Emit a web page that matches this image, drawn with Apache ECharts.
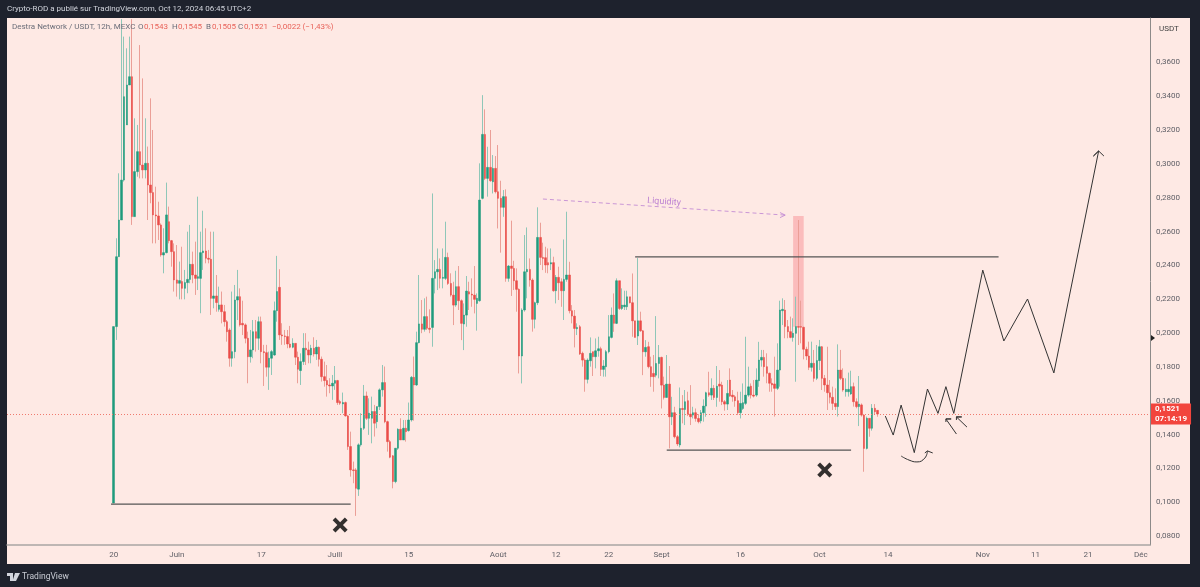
<!DOCTYPE html>
<html lang="fr">
<head>
	<meta charset="UTF-8">
	<title>Destra Network / USDT</title>
	<style type="text/css">
		html, body { margin: 0; padding: 0; background: #1e222d; }
		#main { width: 1200px; height: 587px; }
	</style>
	<script type="text/javascript" src="https://cdn.jsdelivr.net/npm/echarts@6/dist/echarts.min.js"></script>
</head>
<body>
	<div id="main"></div>
	<script type="text/javascript">
// prix, une bougie toutes les 12h a partir du 20 mai
var opens = [
.0995,.2038,.2451,.2668,.2904,.3230,.3466,.3515,.2688,.2954,
.3072,.2993,.2964,.3003,.2875,.2830,.2698,.2692,.2639,.2461,
.2475,.2658,.2546,.2481,.2314,.2294,.2304,.2264,.2298,.2317,
.2406,.2343,.2323,.2323,.2475,.2485,.2442,.2436,.2205,.2219,
.2140,.2166,.2126,.2067,.2018,.1851,.1890,.2195,.2215,.2057,
.2048,.1969,.1860,.1900,.2008,.1969,.2067,.1890,.1884,.1798,
.1851,.1870,.2132,.2270,.1989,.1983,.1979,.1935,.1916,.1939,
.1857,.1778,.1831,.1910,.1900,.1870,.1910,.1876,.1916,.1845,
.1742,.1719,.1693,.1687,.1703,.1719,.1595,.1581,.1589,.1510,
.1329,.1191,.1191,.1077,.1339,.1437,.1628,.1496,.1496,.1536,
.1476,.1565,.1664,.1707,.1476,.1358,.1274,.1122,.1319,.1431,
.1368,.1437,.1423,.1486,.1738,.1693,.1943,.2054,.2022,.2097,
.2028,.2033,.2323,.2362,.2376,.2323,.2323,.2447,.2293,.2224,
.2165,.2274,.2191,.2053,.2106,.2244,.2230,.2224,.2175,.2191,
.2796,.3174,.2914,.2979,.2894,.2973,.2835,.2796,.2743,.2806,
.2323,.2396,.2382,.2309,.2258,.1864,.2136,.2362,.2376,.2313,
.2081,.2179,.2565,.2447,.2445,.2416,.2408,.2416,.2250,.2329,
.2303,.2250,.2317,.2343,.2132,.2100,.2025,.2037,.1880,.1840,
.1726,.1836,.1890,.1860,.1895,.1907,.1785,.1801,.1890,.1974,
.2106,.2057,.2309,.2145,.2155,.2155,.2214,.2179,.2072,.1982,
.2072,.2013,.1889,.1919,.1801,.1761,.1751,.1820,.1856,.1692,
.1619,.1698,.1505,.1529,.1387,.1338,.1554,.1548,.1600,.1521,
.1515,.1529,.1495,.1481,.1529,.1568,.1647,.1633,.1673,.1619,
.1698,.1692,.1594,.1580,.1722,.1633,.1623,.1600,.1529,.1554,
.1584,.1633,.1686,.1633,.1633,.1718,.1840,.1856,.1801,.1762,
.1703,.1699,.1673,.1781,.2132,.2136,.2038,.2008,.1974,.1998,
.2038,.2038,.2034,.1904,.1864,.1797,.1821,.1732,.1837,.1919,
.1732,.1693,.1647,.1620,.1584,.1565,.1781,.1732,.1653,.1653,
.1640,.1683,.1594,.1565,.1575,.1515,.1318,.1496,.1437,.1555,.1543
];
var closes = [
.2038,.2451,.2668,.2904,.3397,.3466,.3515,.2688,.2954,.3072,
.2993,.2964,.3003,.2875,.2830,.2698,.2692,.2639,.2461,.2475,
.2698,.2546,.2481,.2314,.2294,.2310,.2264,.2298,.2317,.2406,
.2343,.2323,.2333,.2475,.2485,.2442,.2436,.2205,.2219,.2180,
.2166,.2126,.2067,.2008,.1851,.1890,.2195,.2215,.2048,.2048,
.1969,.1860,.1900,.2008,.1969,.2067,.1890,.1884,.1798,.1851,
.1890,.2132,.2245,.1989,.1983,.1979,.1935,.1916,.1939,.1857,
.1786,.1831,.1910,.1900,.1870,.1910,.1876,.1916,.1845,.1742,
.1719,.1693,.1687,.1703,.1719,.1589,.1585,.1589,.1510,.1329,
.1191,.1187,.1082,.1339,.1437,.1628,.1496,.1526,.1536,.1467,
.1565,.1664,.1707,.1476,.1358,.1266,.1122,.1319,.1431,.1368,
.1437,.1417,.1486,.1738,.1693,.1943,.2054,.2022,.2097,.2028,
.2022,.2323,.2362,.2376,.2323,.2329,.2447,.2293,.2224,.2165,
.2274,.2191,.2057,.2106,.2248,.2230,.2224,.2199,.2205,.2786,
.3174,.2914,.2979,.2900,.2973,.2835,.2796,.2743,.2806,.2323,
.2396,.2382,.2309,.2258,.1864,.2136,.2362,.2376,.2313,.2081,
.2179,.2565,.2447,.2441,.2402,.2402,.2416,.2250,.2329,.2297,
.2250,.2317,.2343,.2132,.2100,.2027,.2033,.1876,.1840,.1726,
.1840,.1880,.1860,.1895,.1907,.1785,.1805,.1890,.1978,.2106,
.2057,.2309,.2145,.2165,.2165,.2214,.2179,.2072,.1974,.2072,
.2013,.1889,.1915,.1801,.1742,.1742,.1820,.1856,.1692,.1619,
.1698,.1505,.1529,.1387,.1344,.1554,.1548,.1594,.1521,.1505,
.1529,.1495,.1476,.1529,.1568,.1647,.1633,.1673,.1619,.1686,
.1686,.1594,.1580,.1643,.1627,.1623,.1600,.1529,.1584,.1588,
.1633,.1682,.1633,.1627,.1722,.1840,.1856,.1801,.1762,.1703,
.1693,.1673,.1781,.2136,.2140,.2038,.2008,.1974,.1998,.2038,
.2034,.2034,.1904,.1864,.1797,.1821,.1732,.1837,.1919,.1732,
.1693,.1647,.1620,.1584,.1565,.1781,.1732,.1663,.1667,.1667,
.1683,.1594,.1565,.1580,.1515,.1318,.1496,.1437,.1555,.1535,.1521
];
var lows = [
.0995,.1959,.2451,.2668,.2895,.3230,.3466,.2639,.2688,.2924,
.2914,.2914,.2914,.2668,.2767,.2530,.2530,.2550,.2451,.2353,
.2471,.2530,.2392,.2245,.2215,.2199,.2199,.2199,.2235,.2294,
.2294,.2225,.2254,.2117,.2373,.2412,.2412,.2107,.2146,.2126,
.2126,.2057,.2038,.1949,.1801,.1801,.1851,.2077,.2038,.1988,
.1939,.1703,.1825,.1851,.1890,.1900,.1821,.1687,.1742,.1664,
.1752,.1865,.2067,.1959,.1930,.1930,.1910,.1910,.1910,.1811,
.1703,.1693,.1811,.1811,.1821,.1821,.1861,.1841,.1802,.1713,
.1683,.1624,.1644,.1605,.1664,.1575,.1575,.1526,.1506,.1309,
.1151,.1112,.0919,.1037,.1329,.1427,.1486,.1398,.1348,.1388,
.1437,.1545,.1624,.1467,.1299,.1260,.1082,.1112,.1309,.1368,
.1368,.1358,.1417,.1476,.1482,.1687,.1939,.1999,.2008,.2018,
.1999,.1919,.2234,.2254,.2264,.2264,.2313,.2284,.2215,.2047,
.2155,.2136,.1958,.1899,.2037,.2136,.2155,.2116,.2014,.2185,
.2790,.2904,.2806,.2894,.2825,.2825,.2618,.2475,.2687,.2303,
.2303,.2219,.2254,.2126,.1761,.1702,.2126,.2205,.2274,.2008,
.2027,.2165,.2402,.2372,.2356,.2353,.2372,.2244,.2175,.2195,
.2155,.2077,.2303,.2116,.2057,.1915,.1988,.1870,.1801,.1653,
.1702,.1801,.1746,.1791,.1860,.1746,.1742,.1742,.1880,.1968,
.2007,.2053,.2136,.2136,.2136,.2136,.2175,.1978,.1974,.1929,
.2007,.1751,.1860,.1791,.1682,.1653,.1738,.1732,.1554,.1607,
.1619,.1318,.1456,.1377,.1332,.1324,.1466,.1456,.1509,.1456,
.1495,.1476,.1466,.1466,.1476,.1505,.1623,.1604,.1604,.1564,
.1594,.1574,.1541,.1545,.1623,.1594,.1564,.1515,.1495,.1545,
.1574,.1623,.1613,.1619,.1623,.1682,.1801,.1742,.1703,.1653,
.1653,.1506,.1663,.1683,.2047,.1969,.1969,.1969,.1949,.1712,
.1929,.1939,.1844,.1840,.1781,.1772,.1712,.1722,.1781,.1663,
.1653,.1545,.1584,.1545,.1545,.1506,.1722,.1653,.1624,.1624,
.1634,.1565,.1555,.1450,.1506,.1180,.1312,.1387,.1423,.1521,.1505
];
var highs = [
.2038,.2560,.2944,.3855,.3752,.3683,.3752,.3855,.3269,.3230,
.3702,.3505,.3269,.3102,.3387,.3200,.2865,.2776,.2648,.2619,
.2889,.2747,.2550,.2530,.2520,.2422,.2510,.2373,.2599,.2639,
.2481,.2540,.2806,.2599,.2723,.2619,.2491,.2599,.2599,.2343,
.2274,.2245,.2166,.2077,.2028,.2245,.2284,.2373,.2264,.2191,
.2057,.2008,.2018,.2077,.2077,.2097,.2097,.1930,.1930,.1890,
.1900,.2186,.2456,.2377,.2058,.2018,.2018,.2042,.1969,.1939,
.1890,.1880,.1999,.1999,.1949,.1930,.1975,.1959,.1920,.1861,
.1831,.1811,.1733,.1752,.1805,.1723,.1605,.1648,.1595,.1516,
.1417,.1240,.1201,.1348,.1526,.1693,.1654,.1614,.1624,.1575,
.1565,.1673,.1811,.1802,.1482,.1368,.1279,.1319,.1437,.1496,
.1486,.1486,.1589,.1746,.1861,.2008,.2343,.2195,.2205,.2215,
.2140,.2825,.2431,.2500,.2441,.2500,.2658,.2475,.2353,.2303,
.2368,.2396,.2199,.2175,.2337,.2303,.2323,.2396,.2234,.3003,
.3406,.3322,.3101,.3200,.3052,.3046,.3111,.2900,.2845,.2849,
.2402,.2664,.2427,.2382,.2264,.2146,.2579,.2624,.2441,.2323,
.2185,.2743,.2652,.2534,.2510,.2500,.2500,.2451,.2343,.2392,
.2323,.2553,.2717,.2421,.2165,.2136,.2057,.2047,.1890,.1850,
.1850,.1974,.1890,.1968,.1978,.1919,.1840,.1900,.2106,.2151,
.2234,.2323,.2309,.2264,.2250,.2250,.2214,.2352,.2072,.2443,
.2126,.2017,.1958,.1948,.1860,.1870,.2100,.1929,.1860,.1742,
.1870,.1805,.1623,.1564,.1397,.1678,.1633,.1663,.1653,.1692,
.1564,.1554,.1521,.1545,.1608,.1653,.1771,.1732,.1692,.1805,
.1781,.1712,.1604,.1722,.1791,.1663,.1633,.1653,.1653,.1702,
.1978,.1801,.1702,.1722,.1791,.1948,.1900,.1900,.1880,.1766,
.1732,.1860,.1939,.2191,.2205,.2195,.2077,.2097,.2087,.2215,
.2668,.2191,.2038,.1919,.1949,.1949,.1900,.1929,.1959,.1923,
.1752,.1919,.1722,.1683,.1673,.1933,.1900,.1791,.1732,.1766,
.1777,.1707,.1614,.1746,.1584,.1521,.1506,.1496,.1580,.1580,.1545
];

// axes
var yTicks = [0.08, 0.10, 0.12, 0.14, 0.16, 0.18, 0.20, 0.22, 0.24, 0.26, 0.28, 0.30, 0.32, 0.34, 0.36];
var xTickDates = ['2024-05-20', '2024-06-01', '2024-06-17', '2024-07-01', '2024-07-15', '2024-08-01', '2024-08-12', '2024-08-22', '2024-09-01', '2024-09-16', '2024-10-01', '2024-10-14', '2024-11-01', '2024-11-11', '2024-11-21', '2024-12-01'];
var xTickTexts = ['20', 'Juin', '17', 'Juill', '15', 'Août', '12', '22', 'Sept', '16', 'Oct', '14', 'Nov', '11', '21', 'Déc'];
var lastClose = 0.1521;

// dessins de l'auteur : [index de bougie sur l'axe, prix]
var supportLeft = [[39, .0989], [130, .0989]];
var resistance = [[238, .2450], [376, .2450]];
var supportRight = [[250, .1308], [320, .1308]];
var forecast = [[333, .1509], [336, .1397], [339, .1574], [344, .1293], [349, .1669], [353, .1525], [356, .1683], [359, .1525], [370, .2372], [378, .1953], [387, .2201], [397, .1764], [414, .3076], [412, .3046], [414, .3076], [416, .3046]];
var curve = [[339, .1273], [342, .1249], [345, .1238], [348, .1261], [349, .1303]];
var curveHead = [[348, .1291], [349, .1303], [351, .1291]];
var arrowOne = [[360, .1403], [356, .1492], [358, .1492], [356, .1492], [356, .1474]];
var arrowTwo = [[364, .1444], [360, .1504], [362, .1504], [360, .1504], [360, .1486]];
var liquidity = [[203, .2792], [295, .2697]];
var liquidityHead = [[293, .2712], [295, .2697], [293, .2682]];
var liquidityLabelAt = [249, .2775];
var crosses = [[126, .0865], [310, .1190]];
var spikeBox = [[298, .2691], [302, .2037]];

var LEAD_BARS = 40;   // bougies vides avant le 20 mai
var AXIS_BARS = 434;
var FONT = 'Roboto, sans-serif';

var categories = [];
var wickData = [];
var bodyData = [];
var tickMap = {};
for (var t = 0; t < xTickDates.length; t++) {
	tickMap[xTickDates[t] + 'T00'] = xTickTexts[t];
}
for (var k = 0; k < AXIS_BARS; k++) {
	categories.push(new Date(Date.UTC(2024, 3, 30) + k * 43200000).toISOString().slice(0, 13));
	var i = k - LEAD_BARS;
	if (i >= 0 && i < opens.length) {
		wickData.push([opens[i], closes[i], lows[i], highs[i]]);
		bodyData.push([opens[i], closes[i], Math.min(opens[i], closes[i]), Math.max(opens[i], closes[i])]);
	} else {
		wickData.push(['-', '-', '-', '-']);
		bodyData.push(['-', '-', '-', '-']);
	}
}

function drawing(data, color, width, smooth) {
	return {
		type: 'line',
		data: data,
		symbol: 'none',
		smooth: !!smooth,
		z: 5,
		silent: true,
		lineStyle: { color: color, width: width }
	};
}

function text(x, y, str, color, size, weight) {
	return {
		type: 'text',
		x: x,
		y: y,
		silent: true,
		z: 20,
		style: { text: str, fill: color, font: (weight || 'normal') + ' ' + size + 'px ' + FONT, textVerticalAlign: 'middle' }
	};
}

var chart = echarts.init(document.getElementById('main'));
chart.setOption({
	animation: false,
	backgroundColor: '#1e222d',
	grid: { left: 7, right: 50, top: 18, bottom: 42 },
	graphic: [
		{ type: 'rect', z: -10, silent: true, shape: { x: 7, y: 18, width: 1183, height: 546 }, style: { fill: '#fee9e4' } },
		text(7, 9, 'Crypto-ROD a publié sur TradingView.com, Oct 12, 2024 06:45 UTC+2', '#d1d4dc', 8),
		text(12, 27, 'Destra Network / USDT, 12h, MEXC', '#6a6d78', 8),
		text(138, 27, 'O', '#6a6d78', 8), text(144, 27, '0,1543', '#e8635a', 8),
		text(172, 27, 'H', '#6a6d78', 8), text(178, 27, '0,1545', '#e8635a', 8),
		text(206, 27, 'B', '#6a6d78', 8), text(212, 27, '0,1505', '#e8635a', 8),
		text(238, 27, 'C', '#6a6d78', 8), text(244, 27, '0,1521', '#e8635a', 8),
		text(272, 27, '−0,0022 (−1,43%)', '#e8635a', 8),
		text(1159, 29, 'USDT', '#444', 8),
		text(22, 577, 'TradingView', '#c9ccd4', 8.5),
		{ type: 'polygon', z: 20, silent: true, shape: { points: [[1151, 335], [1155, 338], [1151, 341]] }, style: { fill: '#222' } },
		{ type: 'polygon', z: 20, silent: true, shape: { points: [[7, 573], [13, 573], [13, 581], [10, 581], [10, 576], [7, 576]] }, style: { fill: '#d1d4dc' } },
		{ type: 'polygon', z: 20, silent: true, shape: { points: [[15, 573], [20, 573], [16, 581], [12.5, 581]] }, style: { fill: '#d1d4dc' } }
	],
	xAxis: {
		type: 'category',
		data: categories,
		boundaryGap: true,
		axisLine: { lineStyle: { color: '#a9a5a3', width: 1.5 } },
		axisTick: { show: false },
		splitLine: { show: false },
		axisLabel: {
			interval: function (index, value) { return tickMap[value] !== undefined; },
			formatter: function (value) { return tickMap[value] || ''; },
			color: '#5f5f66',
			fontSize: 8,
			fontFamily: FONT,
			margin: 6,
			hideOverlap: false
		}
	},
	yAxis: {
		type: 'value',
		position: 'right',
		min: 0.0747,
		max: 0.3862,
		axisLine: { show: true, lineStyle: { color: '#8d8a89', width: 1 } },
		axisTick: { show: false },
		splitLine: { show: false },
		axisLabel: {
			customValues: yTicks,
			formatter: function (v) { return v.toFixed(4).replace('.', ','); },
			color: '#5f5f66',
			fontSize: 8,
			fontFamily: FONT,
			margin: 6
		}
	},
	series: [
		{
			// serie vide sous les bougies : zone de la meche et ligne du dernier prix
			type: 'line',
			data: [],
			z: 1,
			silent: true,
			markArea: {
				silent: true,
				itemStyle: { color: 'rgba(242,54,69,0.25)' },
				data: [[{ xAxis: spikeBox[0][0], yAxis: spikeBox[0][1] }, { xAxis: spikeBox[1][0], yAxis: spikeBox[1][1] }]]
			},
			markLine: {
				silent: true,
				symbol: 'none',
				precision: 4,
				label: {
					position: 'end',
					distance: 1,
					formatter: '0,1521\n07:14:19',
					color: '#fff',
					backgroundColor: '#f2453d',
					fontSize: 8,
					fontWeight: 'bold',
					fontFamily: FONT,
					lineHeight: 10,
					padding: [1, 4, 0, 4]
				},
				data: [{ yAxis: lastClose, lineStyle: { color: '#f07a6e', type: [1, 2], width: 1 } }]
			}
		},
		{
			type: 'candlestick',
			data: wickData,
			barWidth: 1,
			z: 2,
			silent: true,
			itemStyle: { color: '#8fc7b8', color0: '#eb9f97', borderColor: '#8fc7b8', borderColor0: '#eb9f97', borderWidth: 1 }
		},
		{
			type: 'candlestick',
			data: bodyData,
			barWidth: 2,
			z: 3,
			silent: true,
			itemStyle: { color: '#1f9b7c', color0: '#ea4b47', borderColor: '#1f9b7c', borderColor0: '#ea4b47', borderWidth: 0.5 }
		},
		drawing(supportLeft, '#555', 1.3),
		drawing(resistance, '#555', 1.3),
		drawing(supportRight, '#555', 1.3),
		drawing(forecast, '#333', 1),
		drawing(curve, '#333', 1, true),
		drawing(curveHead, '#333', 1),
		drawing(arrowOne, '#333', 1),
		drawing(arrowTwo, '#333', 1),
		{
			type: 'line',
			data: liquidity,
			symbol: 'none',
			z: 5,
			silent: true,
			lineStyle: { color: '#bd82d2', width: 0.8, type: [4, 3] },
			markPoint: {
				silent: true,
				symbol: 'circle',
				symbolSize: 0,
				label: { show: true, formatter: 'Liquidity', color: '#bd82d2', fontSize: 9, fontFamily: FONT, rotate: -4 },
				data: [{ coord: liquidityLabelAt }]
			}
		},
		drawing(liquidityHead, '#bd82d2', 0.8),
		{
			type: 'scatter',
			data: crosses,
			z: 6,
			silent: true,
			symbol: 'path://M3 0 L8 5 L13 0 L16 3 L11 8 L16 13 L13 16 L8 11 L3 16 L0 13 L5 8 L0 3 Z',
			symbolSize: 15,
			itemStyle: { color: '#000' }
		}
	]
});
	</script>
</body>
</html>
